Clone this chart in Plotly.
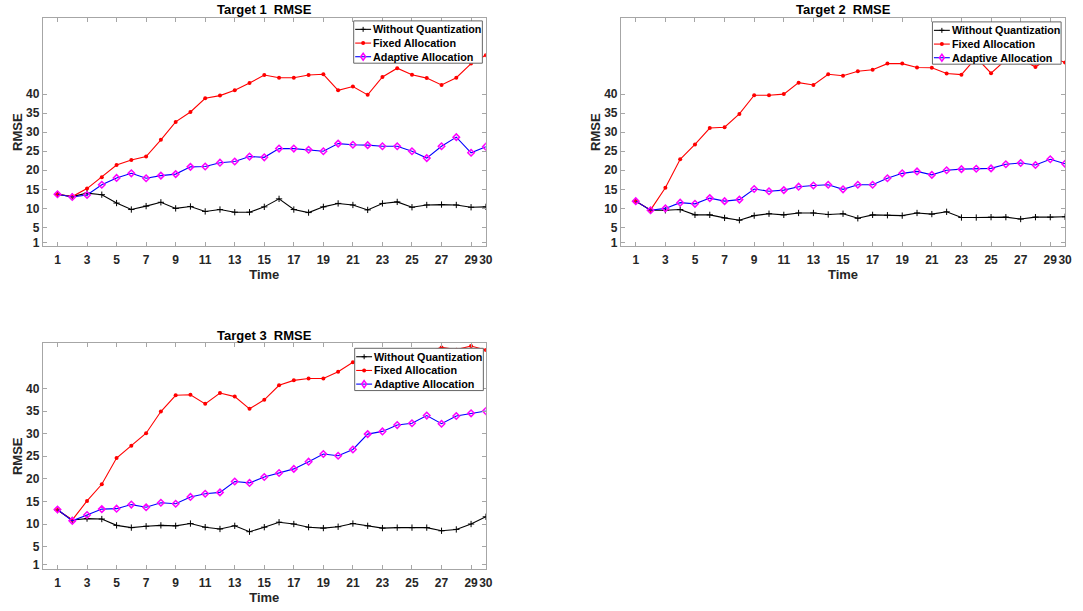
import plotly.graph_objects as go

# Time steps and tick labels
time = list(range(1, 31))
x_ticks = [1, 3, 5, 7, 9, 11, 13, 15, 17, 19, 21, 23, 25, 27, 29, 30]
y_ticks = [1, 5, 10, 15, 20, 25, 30, 35, 40]

series_names = ["Without Quantization", "Fixed Allocation", "Adaptive Allocation"]

# Target 1 RMSE
t1_without = [13.7, 13.1, 14.0, 13.6, 11.4, 9.7, 10.6, 11.6, 10.0, 10.5, 9.2, 9.7, 9.0, 9.0, 10.4,
              12.5, 9.7, 8.9, 10.4, 11.3, 10.9, 9.6, 11.3, 11.7, 10.3, 10.9, 11.0, 10.9, 10.3, 10.4]
t1_fixed = [13.7, 13.1, 15.2, 18.2, 21.4, 22.7, 23.6, 28.0, 32.7, 35.3, 38.9, 39.6, 41.0, 42.9, 45.0,
            44.3, 44.3, 45.0, 45.2, 41.0, 42.0, 39.8, 44.5, 46.8, 45.1, 44.2, 42.4, 44.3, 48.0, 50.2]
t1_adaptive = [13.7, 13.0, 13.5, 16.2, 18.0, 19.2, 17.9, 18.6, 19.0, 20.9, 21.0, 22.0, 22.3, 23.6, 23.4,
               25.7, 25.7, 25.4, 25.0, 27.0, 26.7, 26.6, 26.3, 26.3, 25.0, 23.2, 26.3, 28.7, 24.6, 26.2]

# Target 2 RMSE
t2_without = [11.9, 9.5, 9.5, 9.7, 8.3, 8.3, 7.5, 6.9, 8.1, 8.6, 8.3, 8.8, 8.8, 8.4, 8.6,
              7.4, 8.3, 8.2, 8.1, 8.8, 8.5, 9.1, 7.6, 7.6, 7.7, 7.7, 7.2, 7.7, 7.7, 7.8]
t2_fixed = [11.9, 9.6, 15.4, 22.9, 26.8, 31.1, 31.3, 34.8, 39.7, 39.7, 40.0, 43.0, 42.4, 45.2, 44.8,
            46.0, 46.4, 48.0, 48.0, 47.0, 46.9, 45.4, 45.1, 49.6, 45.5, 49.0, 49.3, 47.1, 49.8, 48.3]
t2_adaptive = [11.9, 9.5, 10.0, 11.5, 11.2, 12.7, 11.9, 12.3, 15.1, 14.5, 14.8, 15.7, 16.0, 16.2, 15.0,
               16.2, 16.2, 17.9, 19.2, 19.7, 18.8, 20.0, 20.3, 20.4, 20.5, 21.6, 21.9, 21.4, 22.9, 21.7]

# Target 3 RMSE
t3_without = [13.1, 10.9, 11.2, 11.1, 9.7, 9.2, 9.5, 9.7, 9.6, 10.1, 9.3, 8.9, 9.6, 8.3, 9.3,
              10.4, 10.0, 9.3, 9.1, 9.4, 10.1, 9.6, 9.1, 9.2, 9.2, 9.2, 8.5, 8.8, 10.0, 11.6]
t3_fixed = [13.1, 10.9, 15.1, 18.8, 24.6, 27.3, 30.1, 34.9, 38.5, 38.6, 36.6, 39.0, 38.2, 35.5, 37.5,
            40.7, 41.8, 42.2, 42.2, 43.7, 45.8, 46.8, 47.2, 47.9, 48.3, 48.0, 49.1, 48.6, 49.4, 48.5]
t3_adaptive = [13.2, 10.7, 12.0, 13.3, 13.4, 14.3, 13.7, 14.7, 14.5, 16.0, 16.7, 17.0, 19.4, 19.1, 20.4,
               21.3, 22.2, 23.8, 25.5, 25.1, 26.5, 29.9, 30.5, 31.9, 32.3, 34.0, 32.2, 33.9, 34.5, 35.0]

W, H = 1083, 611
FONT = "Liberation Sans, Arial, sans-serif"
AXIS_GRAY = "#a6a6a6"
TEXT = "#262626"


def px(x):
    """Pixel column -> paper x."""
    return x / W


def py(y):
    """Pixel row (from top) -> paper y."""
    return 1 - y / H


panels = [
    dict(title="Target 1\u00a0 RMSE", data=[t1_without, t1_fixed, t1_adaptive],
         xdom=(43, 489), ydom=(18, 247.7), yrange=[0, 60], legend_at=(356, 21)),
    dict(title="Target 2\u00a0 RMSE", data=[t2_without, t2_fixed, t2_adaptive],
         xdom=(625, 1072), ydom=(18, 247.7), yrange=[0, 60], legend_at=(938.5, 22)),
    dict(title="Target 3\u00a0 RMSE", data=[t3_without, t3_fixed, t3_adaptive],
         xdom=(43, 489), ydom=(345, 572), yrange=[0, 50], legend_at=(357, 350)),
]

colors = ["black", "red", "blue"]
marker_colors = ["black", "red", "magenta"]
styles = [
    dict(line=dict(color="black", width=1.1),
         marker=dict(symbol="cross-thin-open", size=4.5, color="black", line=dict(width=1, color="black"))),
    dict(line=dict(color="red", width=1.1),
         marker=dict(symbol="circle", size=4, color="red")),
    dict(line=dict(color="blue", width=1.1),
         marker=dict(symbol="diamond-open", size=5, color="magenta", line=dict(width=1.5, color="magenta"))),
]

fig = go.Figure()
layout = dict(
    width=W, height=H,
    margin=dict(l=0, r=0, t=0, b=0),
    paper_bgcolor="white", plot_bgcolor="white",
    font=dict(family=FONT, color=TEXT, size=12),
    showlegend=False,
    annotations=[], shapes=[],
)


def legend_block(left, top):
    """Boxed legend: line sample with marker glyph, then bold label, per series."""
    shapes, annos = [], []
    bw, bh = 129.5, 42.5
    shapes.append(dict(type="rect", xref="paper", yref="paper", layer="above",
                       x0=px(left), x1=px(left + bw), y0=py(top), y1=py(top + bh),
                       fillcolor="white", line=dict(color="#666666", width=1)))
    rows = [8.5, 22.3, 36.0]
    for k, (name, col, mcol) in enumerate(zip(series_names, colors, marker_colors)):
        yc = top + rows[k]
        shapes.append(dict(type="line", xref="paper", yref="paper", layer="above",
                           x0=px(left + 1.5), x1=px(left + 17.5), y0=py(yc), y1=py(yc),
                           line=dict(color=col, width=1.1)))
        cx = left + 9.5
        if k == 0:
            for dx, dy in [(2.5, 0), (0, 2.5)]:
                shapes.append(dict(type="line", xref="paper", yref="paper", layer="above",
                                   x0=px(cx - dx), x1=px(cx + dx), y0=py(yc - dy), y1=py(yc + dy),
                                   line=dict(color=mcol, width=1)))
        elif k == 1:
            shapes.append(dict(type="circle", xref="paper", yref="paper", layer="above",
                               x0=px(cx - 2), x1=px(cx + 2), y0=py(yc - 2), y1=py(yc + 2),
                               fillcolor=mcol, line=dict(color=mcol, width=0)))
        else:
            path = "M {} {} L {} {} L {} {} L {} {} Z".format(
                px(cx), py(yc - 3.5), px(cx + 2.5), py(yc), px(cx), py(yc + 3.5), px(cx - 2.5), py(yc))
            shapes.append(dict(type="path", xref="paper", yref="paper", layer="above", path=path,
                               line=dict(color=mcol, width=1.5)))
        annos.append(dict(text=name, xref="paper", yref="paper", x=px(left + 17.5), y=py(yc),
                          xanchor="left", yanchor="middle", showarrow=False,
                          font=dict(family=FONT, size=10.8, color="black", weight="bold")))
    return shapes, annos


for i, p in enumerate(panels, start=1):
    sfx = "" if i == 1 else str(i)
    for name, vals, st in zip(series_names, p["data"], styles):
        fig.add_trace(go.Scatter(
            x=time, y=vals, name=name, mode="lines+markers",
            line=st["line"], marker=st["marker"],
            xaxis=f"x{sfx}", yaxis=f"y{sfx}",
        ))
    x0, x1 = p["xdom"]
    ytop, ybot = p["ydom"]
    common = dict(
        showline=True, linecolor=AXIS_GRAY, linewidth=1, mirror="ticks",
        ticks="inside", ticklen=4, tickcolor=AXIS_GRAY, tickwidth=1,
        showgrid=False, zeroline=False, tickangle=0,
        tickfont=dict(family=FONT, size=12, color=TEXT, weight="bold"),
    )
    layout[f"xaxis{sfx}"] = dict(
        common, domain=[px(x0), px(x1)], range=[0, 30],
        tickmode="array", tickvals=x_ticks, ticktext=[str(v) for v in x_ticks],
        anchor=f"y{sfx}", ticklabelstandoff=2,
        title=dict(text="Time", standoff=4, font=dict(family=FONT, size=13, color=TEXT, weight="bold")),
    )
    layout[f"yaxis{sfx}"] = dict(
        common, domain=[py(ybot), py(ytop)], range=p["yrange"],
        tickmode="array", tickvals=y_ticks, ticktext=[str(v) for v in y_ticks],
        anchor=f"x{sfx}",
        title=dict(text="RMSE", standoff=0, font=dict(family=FONT, size=13, color=TEXT, weight="bold")),
    )
    s, a = legend_block(*p["legend_at"])
    layout["shapes"].extend(s)
    layout["annotations"].extend(a)
    layout["annotations"].append(dict(
        text=p["title"], xref="paper", yref="paper",
        x=px((x0 + x1) / 2), y=py(ytop - 8), xanchor="center", yanchor="middle",
        showarrow=False, font=dict(family=FONT, size=13, color="black", weight="bold"),
    ))

fig.update_layout(**layout)
fig.write_html("out.html")
